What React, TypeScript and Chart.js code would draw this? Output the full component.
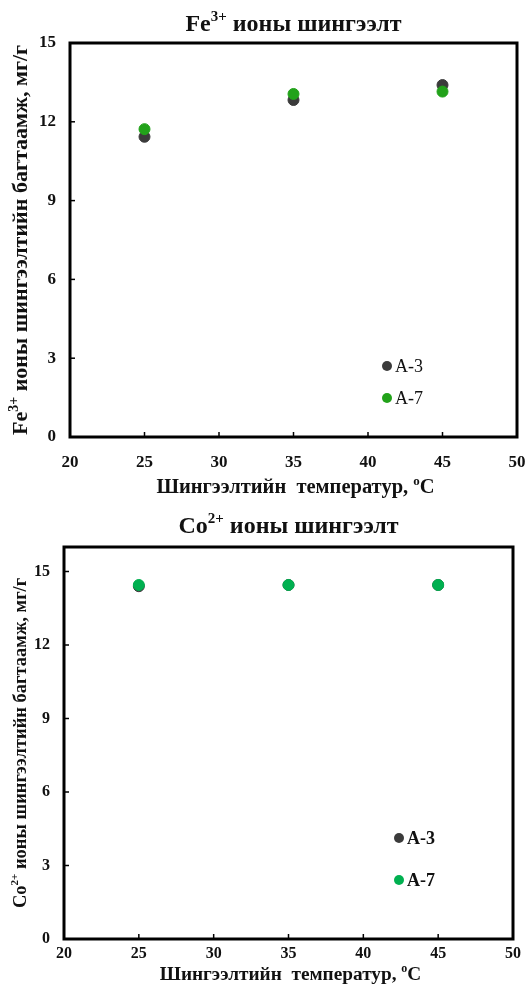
import React, { useEffect, useRef } from "react";
import { Chart, registerables } from "chart.js";

Chart.register(...registerables);

// ---------- data ----------
const temperatures = [25, 35, 45];
const seriesNames = ["A-3", "A-7"];

const feA3 = [11.43, 12.83, 13.4];
const feA7 = [11.72, 13.06, 13.15];

const coA3 = [14.4, 14.45, 14.45];
const coA7 = [14.45, 14.45, 14.45];

const xTicks = [20, 25, 30, 35, 40, 45, 50];
const feYTicks = [0, 3, 6, 9, 12, 15];
const coYTicks = [0, 3, 6, 9, 12, 15];

const feTitle = [{ t: "Fe" }, { t: "3+", sup: true }, { t: " ионы шингээлт" }];
const coTitle = [{ t: "Co" }, { t: "2+", sup: true }, { t: " ионы шингээлт" }];
const feYTitle = [{ t: "Fe" }, { t: "3+", sup: true }, { t: " ионы шингээлтийн багтаамж, мг/г" }];
const coYTitle = [{ t: "Co" }, { t: "2+", sup: true }, { t: " ионы шингээлтийн багтаамж, мг/г" }];
const xTitle = [{ t: "Шингээлтийн  температур, " }, { t: "o", sup: true }, { t: "C" }];

const SERIF = "'Liberation Serif', 'Times New Roman', serif";

type Part = { t: string; sup?: boolean };

function drawRich(ctx: CanvasRenderingContext2D, parts: Part[], cx: number, cy: number, size: number) {
  const supSize = Math.round(size * 0.62);
  let total = 0;
  const widths = parts.map((p) => {
    ctx.font = `bold ${p.sup ? supSize : size}px ${SERIF}`;
    const w = ctx.measureText(p.t).width;
    total += w;
    return w;
  });
  let x = cx - total / 2;
  ctx.textAlign = "left";
  ctx.textBaseline = "middle";
  parts.forEach((p, i) => {
    ctx.font = `bold ${p.sup ? supSize : size}px ${SERIF}`;
    ctx.fillText(p.t, x, p.sup ? cy - size * 0.32 : cy);
    x += widths[i];
  });
}

type PanelCfg = {
  height: number;
  area: { left: number; top: number; right: number; bottom: number };
  yMax: number;
  yTicks: number[];
  a3: number[];
  a7: number[];
  green: string;
  title: Part[];
  titleY: number;
  titleSize: number;
  yTitle: Part[];
  yTitleX: number;
  yTitleSize: number;
  xTitleY: number;
  xTitleSize: number;
  xPad: number;
  tickSize: number;
  legend: { x: number; y1: number; y2: number; bold: boolean; size: number };
};

function Panel({ cfg }: { cfg: PanelCfg }) {
  const ref = useRef<HTMLCanvasElement>(null);
  useEffect(() => {
    const canvas = ref.current!;
    const W = 527;
    const a = cfg.area;
    const dark = "#3b3b3b";
    const decor = {
      id: "decor",
      afterDraw(chart: any) {
        const ctx = chart.ctx as CanvasRenderingContext2D;
        const ca = chart.chartArea;
        const xs = chart.scales.x;
        const ys = chart.scales.y;
        ctx.save();
        // inside tick marks
        ctx.strokeStyle = "#000";
        ctx.lineWidth = 1.5;
        xTicks.forEach((v) => {
          const px = xs.getPixelForValue(v);
          ctx.beginPath();
          ctx.moveTo(px, ca.bottom);
          ctx.lineTo(px, ca.bottom - 5);
          ctx.stroke();
        });
        cfg.yTicks.forEach((v) => {
          const py = ys.getPixelForValue(v);
          ctx.beginPath();
          ctx.moveTo(ca.left, py);
          ctx.lineTo(ca.left + 5, py);
          ctx.stroke();
        });
        // frame
        ctx.lineWidth = 3;
        ctx.strokeRect(ca.left, ca.top, ca.right - ca.left, ca.bottom - ca.top);
        // titles
        ctx.fillStyle = "#111";
        drawRich(ctx, cfg.title, (ca.left + ca.right) / 2, cfg.titleY, cfg.titleSize);
        drawRich(ctx, xTitle, (ca.left + ca.right) / 2 + 2, cfg.xTitleY, cfg.xTitleSize);
        ctx.save();
        ctx.translate(cfg.yTitleX, (ca.top + ca.bottom) / 2);
        ctx.rotate(-Math.PI / 2);
        drawRich(ctx, cfg.yTitle, 0, 0, cfg.yTitleSize);
        ctx.restore();
        // legend
        const lg = cfg.legend;
        const ds = chart.data.datasets;
        [lg.y1, lg.y2].forEach((yy, i) => {
          ctx.beginPath();
          ctx.fillStyle = ds[i].backgroundColor;
          ctx.arc(lg.x, yy, 5, 0, Math.PI * 2);
          ctx.fill();
          ctx.fillStyle = "#111";
          ctx.font = `${lg.bold ? "bold " : ""}${lg.size}px ${SERIF}`;
          ctx.textAlign = "left";
          ctx.textBaseline = "middle";
          ctx.fillText(ds[i].label, lg.x + 8, yy + 1);
        });
        ctx.restore();
      },
    };
    const chart = new Chart(canvas, {
      type: "scatter",
      data: {
        datasets: [
          {
            label: seriesNames[0],
            data: temperatures.map((t, i) => ({ x: t, y: cfg.a3[i] })),
            backgroundColor: dark,
            borderColor: dark,
            pointRadius: 5.5,
            order: 2,
          },
          {
            label: seriesNames[1],
            data: temperatures.map((t, i) => ({ x: t, y: cfg.a7[i] })),
            backgroundColor: cfg.green,
            borderColor: cfg.green,
            pointRadius: 5.5,
            order: 1,
          },
        ],
      },
      options: {
        animation: false,
        responsive: false,
        devicePixelRatio: 1,
        layout: { padding: { left: 0, top: a.top, right: W - a.right, bottom: 0 } },
        plugins: { legend: { display: false }, tooltip: { enabled: false }, title: { display: false } },
        scales: {
          x: {
            type: "linear",
            min: 20,
            max: 50,
            afterFit: (s: any) => {
              s.height = cfg.height - a.bottom;
              s.paddingLeft = 0;
              s.paddingRight = 0;
              s.paddingTop = 0;
              s.paddingBottom = 0;
            },
            afterBuildTicks: (s: any) => {
              s.ticks = xTicks.map((v) => ({ value: v }));
            },
            grid: { display: false, drawTicks: false },
            border: { display: false },
            ticks: {
              padding: cfg.xPad,
              color: "#111",
              font: { family: SERIF, size: cfg.tickSize, weight: "bold" },
              maxRotation: 0,
            },
          },
          y: {
            type: "linear",
            min: 0,
            max: cfg.yMax,
            afterFit: (s: any) => {
              s.width = a.left;
              s.paddingLeft = 0;
              s.paddingRight = 0;
              s.paddingTop = 0;
              s.paddingBottom = 0;
            },
            afterBuildTicks: (s: any) => {
              s.ticks = cfg.yTicks.map((v) => ({ value: v }));
            },
            grid: { display: false, drawTicks: false },
            border: { display: false },
            ticks: {
              padding: 14,
              color: "#111",
              font: { family: SERIF, size: cfg.tickSize, weight: "bold" },
            },
          },
        },
      },
      plugins: [decor],
    } as any);
    return () => chart.destroy();
  }, []);
  return <canvas ref={ref} width={527} height={cfg.height} style={{ display: "block", width: 527, height: cfg.height }} />;
}

const topCfg: PanelCfg = {
  height: 502,
  area: { left: 70, top: 43, right: 517, bottom: 437 },
  yMax: 15,
  yTicks: feYTicks,
  a3: feA3,
  a7: feA7,
  green: "#22a21a",
  title: feTitle,
  titleY: 25,
  titleSize: 24,
  yTitle: feYTitle,
  yTitleX: 21,
  yTitleSize: 22,
  xTitleY: 488,
  xTitleSize: 20.5,
  xPad: 15,
  tickSize: 17,
  legend: { x: 387, y1: 366, y2: 398, bold: false, size: 18 },
};

const botCfg: PanelCfg = {
  height: 483,
  area: { left: 64, top: 45, right: 513, bottom: 437 },
  yMax: 16,
  yTicks: coYTicks,
  a3: coA3,
  a7: coA7,
  green: "#00b050",
  title: coTitle,
  titleY: 25,
  titleSize: 24,
  yTitle: coYTitle,
  yTitleX: 21,
  yTitleSize: 18.5,
  xTitleY: 473,
  xTitleSize: 19.3,
  xPad: 5,
  tickSize: 16,
  legend: { x: 399, y1: 336, y2: 378, bold: true, size: 18 },
};

export default function App() {
  return (
    <div style={{ position: "absolute", left: 0, top: 0, width: 527, height: 985, background: "#fff" }}>
      <Panel cfg={topCfg} />
      <Panel cfg={botCfg} />
    </div>
  );
}
